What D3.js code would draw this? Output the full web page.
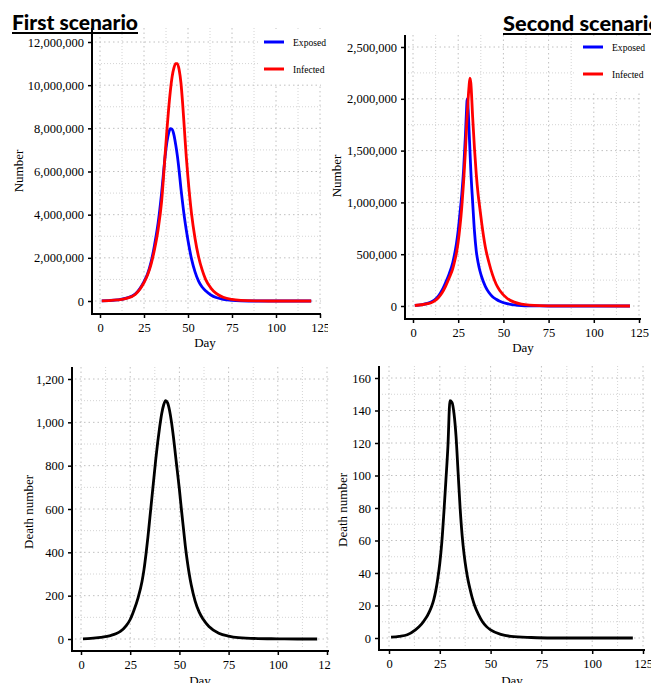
<!DOCTYPE html>
<html><head><meta charset="utf-8">
<script src="https://cdn.jsdelivr.net/npm/d3@7"></script>
<style>html,body{margin:0;padding:0;background:#fff;overflow:hidden}</style>
</head><body>
<svg id="chart" width="651" height="683"></svg>
<script>
// ---------- DATA ----------
const titles = ["First scenario", "Second scenario"];
const seriesNames = ["Exposed", "Infected"];
const xTicks = [0, 25, 50, 75, 100, 125];

// Scenario 1 (numbers)
const daysA = [1,5,10,15,20,25,27,29,31,33,35,37,38,39,40,41,42,43,44,45,46,47,48,49,50,52,54,56,58,60,63,66,70,75,80,90,100,110,120];
const exposedA = [10000,20000,50000,130000,320000,900000,1250000,1800000,2600000,3600000,5000000,6700000,7350000,7780000,7980000,7950000,7700000,7250000,6700000,6000000,5200000,4500000,3850000,3300000,2800000,1950000,1350000,920000,650000,470000,280000,160000,80000,30000,10000,0,0,0,0];
const infectedA = [10000,20000,50000,120000,300000,850000,1200000,1700000,2400000,3300000,4600000,6800000,7900000,8900000,9750000,10400000,10800000,11000000,11000000,10700000,10100000,9100000,7900000,6700000,5700000,4050000,2900000,2050000,1450000,1000000,600000,350000,170000,70000,30000,5000,0,0,0];
const yTicksA = [0, 2000000, 4000000, 6000000, 8000000, 10000000, 12000000];

// Scenario 2 (numbers)
const daysB = [1,5,8,10,12,14,16,18,20,22,23,24,25,26,27,28,29,29.5,30,30.5,31,31.5,32,33,34,35,36,37,38,40,42,44,46,48,52,56,60,70,80,120];
const exposedB = [5000,14000,26000,38000,60000,95000,150000,225000,310000,420000,500000,600000,730000,900000,1080000,1320000,1650000,1850000,2000000,1900000,1700000,1500000,1300000,1000000,720000,530000,420000,340000,280000,190000,130000,90000,65000,45000,22000,11000,5000,1000,0,0];
const infectedB = [5000,12000,22000,32000,50000,80000,125000,190000,270000,360000,430000,510000,620000,770000,960000,1200000,1500000,1680000,1850000,2000000,2120000,2200000,2150000,1820000,1520000,1270000,1080000,940000,800000,570000,420000,300000,210000,150000,75000,37000,18000,4000,1000,0];
const yTicksB = [0, 500000, 1000000, 1500000, 2000000, 2500000];

// Scenario 1 deaths
const daysC = [1,5,10,15,18,20,23,25,27,29,31,32,33,34,35,36,37,38,39,40,41,42,43,44,45,46,47,48,49,50,51,52,53,54,55,56,58,60,62,65,70,75,80,90,100,110,120];
const deathC = [1,3,8,16,25,35,62,90,135,190,265,320,390,470,560,650,740,830,910,980,1040,1080,1100,1090,1055,1000,930,850,770,690,600,515,430,360,300,250,175,125,92,58,27,13,6,2,1,0,0];
const yTicksC = [0, 200, 400, 600, 800, 1000, 1200];

// Scenario 2 deaths
const daysD = [1,5,9,13,16,18,19,20,21,22,23,24,25,26,27,28,29,30,31,32,33,34,35,36,37,38,39,40,41,42,44,46,48,50,55,60,70,80,120];
const deathD = [0.5,1,2,5,8.5,12,14,16.5,19.5,23.5,29,36.5,46,59,77,97,118,146,145,138,124,102,80,63,51,42,35,29.5,24.5,20.5,14.5,10,7,5,2.2,1,0.3,0,0];
const yTicksD = [0, 20, 40, 60, 80, 100, 120, 140, 160];

const colors = {Exposed: "#0000ff", Infected: "#ff0000", Death: "#000000"};

// ---------- DRAW ----------
const svg = d3.select("#chart");
const serif = "'Liberation Serif','Times New Roman',serif";
const defs = svg.append("defs");

function panel(cfg) {
  let g = svg.append("g");
  if (cfg.clipRight) {
    const id = "clip" + cfg.clipRight;
    defs.append("clipPath").attr("id", id).append("rect")
      .attr("x", 0).attr("y", 0).attr("width", cfg.clipRight).attr("height", 683);
    g.attr("clip-path", `url(#${id})`);
  }
  const x = d3.scaleLinear().domain([0, 125]).range([cfg.x0, cfg.x125]);
  const y = d3.scaleLinear().domain([0, cfg.yMax]).range([cfg.y0, cfg.yTop]);
  const L = cfg.left, R = cfg.right, T = cfg.top, B = cfg.bottom;

  // grid
  const minorX = d3.range(0, 126, 12.5).filter(v => v % 25 !== 0);
  const step = cfg.yTicks[1] - cfg.yTicks[0];
  const minorY = cfg.yTicks.map(v => v + step / 2).filter(v => y(v) >= T);
  const grid = g.append("g");
  grid.selectAll(".mx").data(minorX).join("line")
    .attr("x1", d => x(d)).attr("x2", d => x(d)).attr("y1", T).attr("y2", B - 3)
    .attr("stroke", "#d4d4d4").attr("stroke-dasharray", "1,2");
  grid.selectAll(".my").data(minorY).join("line")
    .attr("x1", L + 3).attr("x2", R).attr("y1", d => y(d)).attr("y2", d => y(d))
    .attr("stroke", "#d4d4d4").attr("stroke-dasharray", "1,2");
  grid.selectAll(".Mx").data(xTicks).join("line")
    .attr("x1", d => x(d)).attr("x2", d => x(d)).attr("y1", T).attr("y2", B - 3)
    .attr("stroke", "#c0c0c0").attr("stroke-dasharray", "1.5,3");
  grid.selectAll(".My").data(cfg.yTicks).join("line")
    .attr("x1", L + 3).attr("x2", R).attr("y1", d => y(d)).attr("y2", d => y(d))
    .attr("stroke", "#c0c0c0").attr("stroke-dasharray", "1.5,3");

  // legend background
  if (cfg.legend) {
    g.append("rect").attr("x", cfg.legend.bx).attr("y", cfg.legend.by)
      .attr("width", cfg.legend.bw).attr("height", cfg.legend.bh).attr("fill", "#fff");
  }

  // lines
  const line = d3.line().x(d => x(d[0])).y(d => y(d[1])).curve(d3.curveMonotoneX);
  cfg.series.forEach(s => {
    g.append("path").datum(cfg.days.map((d, i) => [d, s.values[i]]))
      .attr("d", line).attr("fill", "none").attr("stroke", colors[s.name])
      .attr("stroke-width", 2.8).attr("stroke-linejoin", "round");
  });

  // axes
  const yAxis = d3.axisLeft(y).tickValues(cfg.yTicks).tickFormat(d3.format(",")).tickSize(4).tickPadding(4);
  const xAxis = d3.axisBottom(x).tickValues(xTicks).tickSize(4).tickPadding(5);
  const ya = g.append("g").attr("transform", `translate(${L},0)`).call(yAxis);
  const xa = g.append("g").attr("transform", `translate(0,${B})`).call(xAxis);
  [ya, xa].forEach(a => {
    a.select(".domain").remove();
    a.selectAll("line").attr("stroke", "#000").attr("stroke-width", 1.5);
    a.selectAll("text").attr("font-family", serif).attr("font-size", 12.5).attr("fill", "#000");
  });
  g.append("line").attr("x1", L).attr("x2", L).attr("y1", T).attr("y2", B + 1)
    .attr("stroke", "#000").attr("stroke-width", 2);
  g.append("line").attr("x1", L - 1).attr("x2", R).attr("y1", B).attr("y2", B)
    .attr("stroke", "#000").attr("stroke-width", 2);

  // axis titles
  g.append("text").attr("x", cfg.xlab[0]).attr("y", cfg.xlab[1]).attr("text-anchor", "middle")
    .attr("font-family", serif).attr("font-size", 13).text("Day");
  g.append("text").attr("transform", `translate(${cfg.ylab[0]},${cfg.ylab[1]}) rotate(-90)`)
    .attr("text-anchor", "middle").attr("font-family", serif).attr("font-size", 13).text(cfg.ylabText);

  // legend
  if (cfg.legend) {
    seriesNames.forEach((n, i) => {
      const ly = cfg.legend.y + i * cfg.legend.dy;
      g.append("line").attr("x1", cfg.legend.x).attr("x2", cfg.legend.x + 20)
        .attr("y1", ly).attr("y2", ly).attr("stroke", colors[n]).attr("stroke-width", 3);
      g.append("text").attr("x", cfg.legend.x + 29).attr("y", ly + 3.5)
        .attr("font-family", serif).attr("font-size", 9.6).text(n);
    });
  }

  // title
  if (cfg.title) {
    g.append("text").attr("x", cfg.title.x).attr("y", cfg.title.y)
      .attr("font-family", "Lato, 'Open Sans', sans-serif").attr("font-weight", 900)
      .attr("font-size", 21).attr("textLength", cfg.title.w).attr("lengthAdjust", "spacingAndGlyphs")
      .text(cfg.title.text);
    g.append("line").attr("x1", cfg.title.x).attr("x2", cfg.title.x + cfg.title.w)
      .attr("y1", cfg.title.y + 3).attr("y2", cfg.title.y + 3).attr("stroke", "#000").attr("stroke-width", 2);
  }
}

panel({
  x0: 100, x125: 320, y0: 301, yTop: 42, yMax: 12000000, yTicks: yTicksA,
  left: 92, right: 321, top: 28, bottom: 314, clipRight: 328,
  days: daysA, series: [{name: "Exposed", values: exposedA}, {name: "Infected", values: infectedA}],
  xlab: [205, 347], ylab: [23, 171], ylabText: "Number",
  legend: {bx: 258, by: 29, bw: 75, bh: 55, x: 264, y: 42, dy: 27},
  title: {text: titles[0], x: 12, y: 30, w: 126}
});
panel({
  x0: 413, x125: 639, y0: 306, yTop: 47, yMax: 2500000, yTicks: yTicksB,
  left: 405, right: 641, top: 35, bottom: 319,
  days: daysB, series: [{name: "Exposed", values: exposedB}, {name: "Infected", values: infectedB}],
  xlab: [523, 352], ylab: [341, 176], ylabText: "Number",
  legend: {bx: 574, by: 36, bw: 77, bh: 56, x: 583, y: 47, dy: 27},
  title: {text: titles[1], x: 503, y: 31, w: 158}
});
panel({
  x0: 81, x125: 327, y0: 639, yTop: 379, yMax: 1200, yTicks: yTicksC,
  left: 72, right: 329, top: 367, bottom: 651, clipRight: 331,
  days: daysC, series: [{name: "Death", values: deathC}],
  xlab: [200, 685], ylab: [33, 512], ylabText: "Death number"
});
panel({
  x0: 389, x125: 643, y0: 638, yTop: 378, yMax: 160, yTicks: yTicksD,
  left: 379, right: 645, top: 366, bottom: 650,
  days: daysD, series: [{name: "Death", values: deathD}],
  xlab: [512, 685], ylab: [347, 510], ylabText: "Death number"
});
</script>
</body></html>
